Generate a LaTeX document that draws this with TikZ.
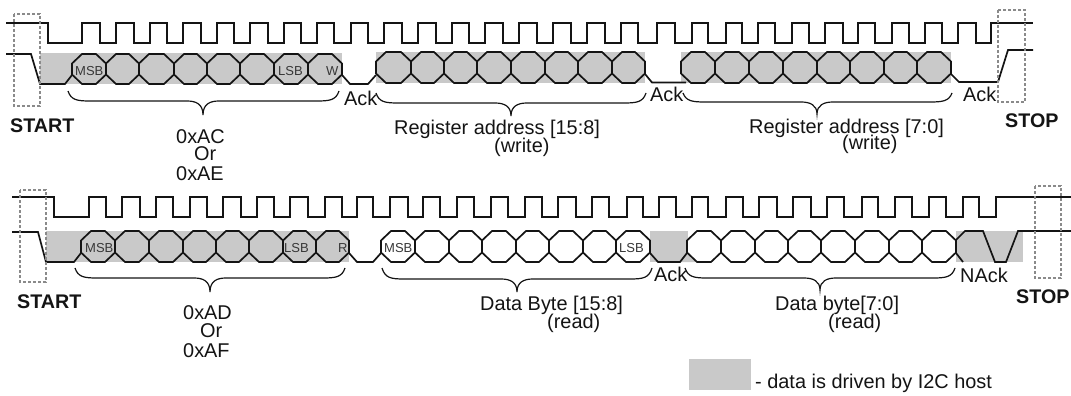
\documentclass[tikz,border=0pt]{standalone}
\usepackage{fontspec}
\setmainfont{Liberation Sans}
\definecolor{hostgray}{HTML}{C9C9C9}
\definecolor{boxgray}{HTML}{8A8A8A}
\definecolor{ink}{HTML}{141414}
\newcommand{\octrow}[3]{%
  \foreach \a/\b in {#3}{%
    \draw[sig] (\a,#1+9.5) -- (\a+10,#1) -- (\b-10,#1) -- (\b,#1+9.5) -- (\b,#2-9.5) -- (\b-10,#2) -- (\a+10,#2) -- (\a,#2-9.5) -- cycle;
  }}
\newcommand{\bracket}[6]{%
  \draw[bracestroke] (#1,#4) .. controls (#1+3,#5-1) and (#1+9,#5) .. (#1+22,#5) -- (#3-16,#5)
    .. controls (#3-7,#5) and (#3,#5+3) .. (#3,#6)
    .. controls (#3,#5+3) and (#3+7,#5) .. (#3+16,#5) -- (#2-22,#5)
    .. controls (#2-9,#5) and (#2-3,#5-1) .. (#2,#4);}
\begin{document}
\begin{tikzpicture}[x=1pt,y=-1pt,
  sig/.style={draw=ink,line width=1.7pt,line join=miter},
  bracestroke/.style={draw=ink,line width=1.2pt},
  host/.style={fill=hostgray,draw=none},
  marker/.style={draw=boxgray,line width=1.7pt,dash pattern=on 3.2pt off 1.8pt},
  lab/.style={anchor=base west,inner sep=0pt,text=ink,font=\fontsize{19.9}{22}\selectfont},
  blab/.style={anchor=base west,inner sep=0pt,text=ink,font=\fontsize{19.7}{22}\selectfont\bfseries},
  slab/.style={anchor=base west,inner sep=0pt,text=ink!85,font=\fontsize{13}{15}\selectfont}]
\useasboundingbox[fill=white] (0,0) rectangle (1071,396);

% ---- top row: host-driven areas
\fill[host] (40,53) rectangle (342,84);
\fill[host] (376,52) rectangle (645,83);
\fill[host] (681,52) rectangle (951,83);

% top clock
\draw[sig] (6,23) -- (48,23) -- (48,43)
  foreach \r/\f in {82/100,116/134,150/167,183/201,217/234,250/268,284/301,317/334,351/368,384/402,418/436,452/469,485/503,519/537,553/571,587/605,621/638,657/675,692/708,726/742,758/775,792/809,825/843,858/875,892/909,925/942,958/976}
  { -- (\r,43) -- (\r,23) -- (\f,23) -- (\f,43)}
  -- (991,43) -- (991,23) -- (1033,23);

% top data
\draw[sig] (6,54) -- (31,54) -- (40,84) -- (65,84) -- (72,75);
\octrow{54}{84}{72/106,106/139,139/174,174/207,207/240,240/274,274/308,308/342}
\draw[sig] (342,75) -- (350,84) -- (368,84) -- (376,75);
\octrow{52}{83}{376/411,411/444,444/477,477/511,511/545,545/578,578/612,612/645}
\draw[sig] (645,74) -- (652,82.5) -- (686,82.5);
\octrow{52}{83}{681/715,715/749,749/783,783/817,817/850,850/884,884/917,917/951}
\draw[sig] (951,74) -- (959,82) -- (998,82) -- (1008,50) -- (1033,50);

% top markers
\draw[marker] (14,14) rectangle (40,106);
\draw[marker] (998,10) rectangle (1025,102);

% top braces
\bracket{68}{339}{203}{91}{101}{115}
\bracket{376}{646}{511}{93}{103}{116}
\bracket{683}{952}{817}{93}{102}{114}

% top labels
\node[slab] (msbA) at (75,75) {MSB};
\node[slab] (lsbA) at (278,75) {LSB};
\node[slab] (wA) at (326,75) {W};
\node[blab] (startA) at (10,132) {START};
\node[lab] (acA) at (176,143) {0xAC};
\node[lab] (orA) at (194,160) {Or};
\node[lab] (aeA) at (176,180) {0xAE};
\node[lab] (ackA) at (344,106) {Ack};
\node[lab] (ackB) at (650,102) {Ack};
\node[lab] (ackC) at (963,102) {Ack};
\node[lab] (regA) at (394,134) {Register address [15:8]};
\node[lab] (wrA) at (494,152) {(write)};
\node[lab] (regB) at (749,133) {Register address [7:0]};
\node[lab] (wrB) at (842,149) {(write)};
\node[blab] (stopA) at (1005,127) {STOP};

% ---- bottom row: host-driven areas
\fill[host] (46,231) rectangle (349,262);
\fill[host] (650,231) rectangle (688,262);
\fill[host] (680,262) -- (687,253) -- (696,262) -- cycle;
\fill[host] (956,231) rectangle (1023,262);

% bottom clock
\draw[sig] (12,197) -- (54,197) -- (54,217)
  foreach \r/\f in {89/106,122/140,156/173,190/207,223/241,257/274,290/308,325/342,357/373,390/408,423/440,457/474,491/508,525/542,558/576,592/609,627/643,659/676,692/708,726/743,759/777,793/811,827/844,862/878,895/912,929/946,963/979}
  { -- (\r,217) -- (\r,197) -- (\f,197) -- (\f,217)}
  -- (996,217) -- (996,197) -- (1071,197);

% bottom data
\draw[sig] (12,232) -- (38,232) -- (46,262) -- (74,262) -- (81,253);
\octrow{231}{262}{81/115,115/149,149/183,183/216,216/249,249/283,283/316,316/349}
\draw[sig] (349,253) -- (357,262) -- (373,262) -- (381,253);
\octrow{231}{262}{381/415,415/449,449/482,482/516,516/549,549/583,583/616,616/650}
\draw[sig] (650,253) -- (658,262) -- (680,262) -- (687,253);
\octrow{231}{262}{687/721,721/755,755/788,788/821,821/855,855/889,889/922,922/956}
\draw[sig] (956,253) -- (963,262);
\draw[sig] (956,240) -- (965,231) -- (983,231) -- (995,262) -- (1006,262) -- (1018,231) -- (1071,231);

% bottom markers
\draw[marker] (20,190) rectangle (46,282);
\draw[marker] (1035,186) rectangle (1061,278);

% bottom braces
\bracket{75}{345}{210}{268}{278}{292}
\bracket{382}{652}{517}{268}{279}{292}
\bracket{685}{955}{820}{268}{278}{290}

% bottom labels
\node[slab] (msbB) at (85,252) {MSB};
\node[slab] (lsbB) at (284,252) {LSB};
\node[slab] (rB) at (338,252) {R};
\node[slab] (msbC) at (384,252) {MSB};
\node[slab] (lsbC) at (619,252) {LSB};
\node[blab] (startB) at (17,308) {START};
\node[lab] (adB) at (183,319) {0xAD};
\node[lab] (orB) at (200,337) {Or};
\node[lab] (afB) at (183,357) {0xAF};
\node[lab] (ackD) at (654,281) {Ack};
\node[lab] (nackD) at (960,282) {NAck};
\node[lab] (dataA) at (480,310) {Data Byte [15:8]};
\node[lab] (rdA) at (547,328) {(read)};
\node[lab] (dataB) at (775,310) {Data byte[7:0]};
\node[lab] (rdB) at (828,328) {(read)};
\node[blab] (stopB) at (1016,303) {STOP};

% legend
\fill[host] (689,359) rectangle (751,390);
\node[lab] (legend) at (755,388) {- data is driven by I2C host};
\end{tikzpicture}
\end{document}
